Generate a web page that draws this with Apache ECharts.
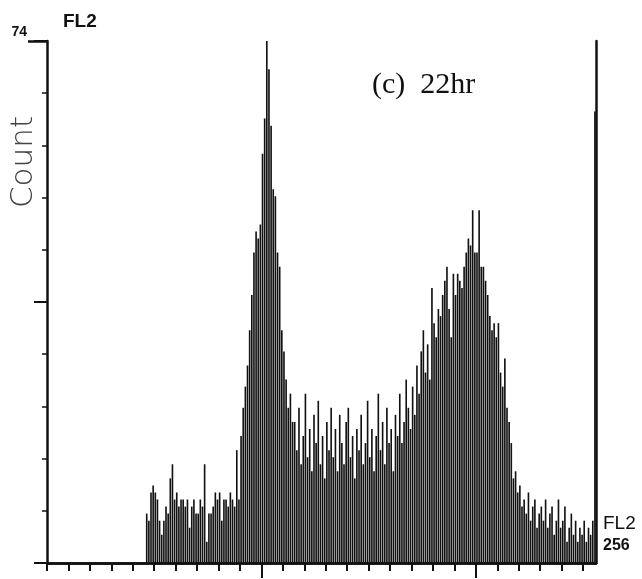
<!DOCTYPE html>
<html>
<head>
<meta charset="utf-8">
<script src="https://cdn.jsdelivr.net/npm/echarts@6/dist/echarts.min.js"></script>
<style>
  html, body { margin: 0; padding: 0; background: #fff; }
  #chart { width: 642px; height: 579px; }
</style>
</head>
<body>
<div id="chart"></div>
<script>
// FL2 DNA-content histogram (22 hr sample): counts per channel, channels 0-255.

// channels 0-45: nothing recorded
const emptyChannels = [0,0,0,0,0,0,0,0,0,0, 0,0,0,0,0,0,0,0,0,0, 0,0,0,0,0,0,0,0,0,0,
                       0,0,0,0,0,0,0,0,0,0, 0,0,0,0,0,0];
// channels 46-89: sub-G1 debris
const debrisCounts = [7,6,10,11,10,9,6,4,6,8, 7,12,14,9,10,8,9,9,8,9,
                      5,8,9,7,7,9,8,14,3,7, 7,8,10,9,10,6,9,9,8,10, 9,8,16,9];
// channels 90-114: G0/G1 peak
const g1Counts = [18,22,25,28,33,38,44,47,46,48, 58,63,74,70,62,53,52,44,42,33, 30,26,22,24,20];
// channels 115-165: S phase
const sCounts = [20,16,22,14,18,24,15,19,13,21, 17,23,14,18,12,20,16,22,15,19,
                 13,21,17,14,20,22,15,18,12,19, 16,21,14,17,23,15,19,13,18,24,
                 16,20,14,22,17,19,13,21,18,24, 17];
// channels 166-215: G2/M peak
const g2Counts = [20,26,22,19,25,21,28,24,30,33, 27,31,26,39,34,32,36,35,38,40,
                  42,36,32,41,38,41,40,39,42,44, 46,45,50,44,44,50,42,42,40,38,
                  35,33,34,32,34,27,25,29,22,20];
// channels 216-255: high tail, last channel collects off-scale events
const tailCounts = [17,12,13,10,11,8,9,7,10,6, 8,9,5,7,8,6,9,5,7,8,
                    4,6,9,5,6,8,3,5,7,4, 6,3,5,4,6,3,5,4,6,64];

// axis scales and tick positions
const xMax = 256;
const yMax = 74;
const xMinorTicks = [0,10,20,30,40,50,60,70,80,90,100,110,120,130,140,150,160,170,180,190,200,210,220,230,240,250];
const xMajorTicks = [100,200];
const yMinorStep = 7.4;   // ten divisions of the count axis
const yMidStep = 37;
const yEndLabel = '74';
const axisTitle = 'FL2';
const yTitle = 'Count';
const sampleTitle = '(c)  22hr';

const counts = [].concat(emptyChannels, debrisCounts, g1Counts, sCounts, g2Counts, tailCounts);
const channels = counts.map((_, i) => String(i));

const ink = '#111';
const chart = echarts.init(document.getElementById('chart'), null, { renderer: 'canvas' });

const hiddenLabel = { show: false };
const option = {
  animation: false,
  backgroundColor: '#fff',
  grid: { left: 47, right: 46, top: 41, bottom: 16, containLabel: false },
  xAxis: [
    { // channel bins carrying the bars
      type: 'category', data: channels, boundaryGap: true, position: 'bottom',
      axisLine: { show: false }, axisTick: { show: false }, axisLabel: hiddenLabel, splitLine: { show: false }
    },
    { // baseline with the ten-channel ticks
      type: 'value', min: 0, max: xMax, position: 'bottom',
      axisLine: { show: true, lineStyle: { color: ink, width: 2.5 } },
      axisTick: { show: true, customValues: xMinorTicks, length: 8, lineStyle: { color: ink, width: 2 } },
      axisLabel: hiddenLabel, splitLine: { show: false }
    },
    { // hundred-channel ticks
      type: 'value', min: 0, max: xMax, position: 'bottom',
      axisLine: { show: false },
      axisTick: { show: true, customValues: xMajorTicks, length: 15, lineStyle: { color: ink, width: 2 } },
      axisLabel: hiddenLabel, splitLine: { show: false }
    },
    { // top frame
      type: 'value', min: 0, max: xMax, position: 'top',
      axisLine: { show: true, lineStyle: { color: ink, width: 2.5 } },
      axisTick: { show: false }, axisLabel: hiddenLabel, splitLine: { show: false }
    }
  ],
  yAxis: [
    {
      type: 'value', min: 0, max: yMax, interval: yMinorStep, position: 'left',
      axisLine: { show: true, lineStyle: { color: ink, width: 2.5 } },
      axisTick: { show: true, length: 5, lineStyle: { color: ink, width: 1.5 } },
      axisLabel: hiddenLabel, splitLine: { show: false }
    },
    {
      type: 'value', min: 0, max: yMax, interval: yMidStep, position: 'left',
      axisLine: { show: false },
      axisTick: { show: true, length: 13, lineStyle: { color: ink, width: 2 } },
      axisLabel: hiddenLabel, splitLine: { show: false }
    },
    {
      type: 'value', min: 0, max: yMax, interval: yMax, position: 'left',
      axisLine: { show: false },
      axisTick: { show: true, length: 19, lineStyle: { color: ink, width: 2.5 } },
      axisLabel: {
        show: true, showMinLabel: false, margin: 20,
        formatter: (v) => (v === yMax ? yEndLabel : ''),
        color: ink, fontFamily: 'Liberation Sans, Arial, sans-serif', fontWeight: 'bold', fontSize: 14,
        verticalAlign: 'bottom', align: 'right', padding: [0, 0, 2, 0]
      },
      splitLine: { show: false }
    },
    { // right frame
      type: 'value', min: 0, max: yMax, position: 'right',
      axisLine: { show: true, lineStyle: { color: ink, width: 2.5 } },
      axisTick: { show: false }, axisLabel: hiddenLabel, splitLine: { show: false }
    }
  ],
  series: [
    {
      type: 'bar', xAxisIndex: 0, yAxisIndex: 0,
      data: counts,
      barWidth: '76%',
      itemStyle: { color: ink },
      silent: true
    }
  ],
  graphic: [
    {
      type: 'text', left: 63, top: 12,
      style: { text: axisTitle, fill: ink, font: 'bold 19px "Liberation Sans", Arial, sans-serif' }
    },
    {
      type: 'text', x: 24, y: 162, rotation: Math.PI / 2,
      style: { text: yTitle, fill: '#444', font: '300 31px "DejaVu Sans", sans-serif', align: 'center', verticalAlign: 'middle' }
    },
    {
      type: 'text', left: 603, top: 514,
      style: { text: axisTitle, fill: ink, font: '19px "Liberation Sans", Arial, sans-serif' }
    },
    {
      type: 'text', left: 603, top: 538,
      style: { text: String(xMax), fill: ink, font: 'bold 16px "Liberation Sans", Arial, sans-serif' }
    },
    {
      type: 'text', left: 372, top: 70,
      style: { text: sampleTitle, fill: ink, font: '30px "Liberation Serif", "Times New Roman", serif' }
    }
  ]
};
chart.setOption(option);
</script>
</body>
</html>
